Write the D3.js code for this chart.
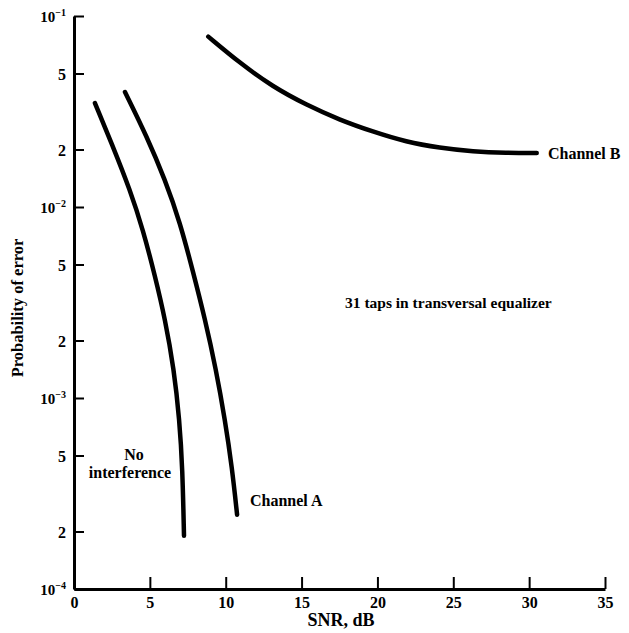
<!DOCTYPE html>
<html>
<head>
<meta charset="utf-8">
<script src="https://cdn.jsdelivr.net/npm/d3@7"></script>
<style>
  body { margin: 0; background: #fff; }
  svg text { font-family: "Liberation Serif", "DejaVu Serif", serif; font-weight: bold; fill: #000; }
</style>
</head>
<body>
<svg id="chart" width="629" height="633"></svg>
<script>
const width = 629;
const height = 633;

// values: [SNR dB, probability of error]
const noInterference = [
  [1.38, 3.5e-2], [2.57, 2.07e-2], [3.69, 1.23e-2], [4.55, 7.6e-3], [5.34, 4.35e-3],
  [6.0, 2.6e-3], [6.59, 1.41e-3], [6.95, 7.7e-4], [7.15, 4.3e-4], [7.25, 1.9e-4]
];
const channelA = [
  [3.36, 4.0e-2], [4.81, 2.33e-2], [6.0, 1.39e-2], [6.99, 8.3e-3], [7.84, 4.6e-3],
  [8.63, 2.6e-3], [9.36, 1.41e-3], [9.95, 7.7e-4], [10.42, 4.3e-4], [10.75, 2.45e-4]
];
const channelB = [
  [8.85, 7.8e-2], [10.9, 5.7e-2], [13.1, 4.26e-2], [15.3, 3.43e-2], [17.5, 2.86e-2],
  [19.7, 2.48e-2], [21.9, 2.19e-2], [24.1, 2.04e-2], [26.3, 1.95e-2], [28.5, 1.92e-2], [30.5, 1.92e-2]
];

const xTicks = [0, 5, 10, 15, 20, 25, 30, 35];
const yTicks = [1e-4, 2e-4, 5e-4, 1e-3, 2e-3, 5e-3, 1e-2, 2e-2, 5e-2, 1e-1];

const svg = d3.select("#chart");

const x = d3.scaleLinear().domain([0, 35]).range([74, 605]);
const y = d3.scaleLog().domain([1e-4, 1e-1]).range([589, 16]);

// x axis, ticks pointing up into the plot
const xAxis = svg.append("g")
  .attr("transform", `translate(0,${y(1e-4)})`)
  .call(d3.axisBottom(x).tickValues(xTicks).tickSize(-12).tickSizeOuter(0).tickPadding(5));
xAxis.select(".domain").attr("stroke", "#000").attr("stroke-width", 3);
xAxis.selectAll(".tick line").attr("stroke", "#000").attr("stroke-width", 2);
xAxis.selectAll(".tick text").attr("font-size", 16).attr("dy", "0.85em");

// y axis, ticks pointing right
const yAxis = svg.append("g")
  .attr("transform", `translate(${x(0)},0)`)
  .call(d3.axisLeft(y).tickValues(yTicks).tickSize(-10).tickSizeOuter(0).tickPadding(8).tickFormat(""));
yAxis.select(".domain").attr("stroke", "#000").attr("stroke-width", 3);
yAxis.selectAll(".tick line").attr("stroke", "#000").attr("stroke-width", 2);
yAxis.selectAll(".tick text").each(function (d) {
  const t = d3.select(this).attr("font-size", 16).attr("dy", "0.35em");
  const exp = Math.floor(Math.log10(d) + 1e-9);
  const mant = Math.round(d / Math.pow(10, exp));
  if (mant === 1) {
    t.attr("font-size", 15);
    t.append("tspan").text("10");
    t.append("tspan").attr("font-size", 10).attr("dy", "-0.6em").text("\u2212" + (-exp));
  } else {
    t.text(mant);
  }
});

const line = d3.line()
  .x((d) => x(d[0]))
  .y((d) => y(d[1]))
  .curve(d3.curveBasis);

for (const series of [noInterference, channelA, channelB]) {
  svg.append("path")
    .datum(series)
    .attr("fill", "none")
    .attr("stroke", "#000")
    .attr("stroke-width", 4.5)
    .attr("stroke-linecap", "round")
    .attr("d", line);
}

// annotations
svg.append("text").attr("x", 548).attr("y", 159).attr("font-size", 16).text("Channel B");
svg.append("text").attr("x", 250).attr("y", 506).attr("font-size", 16).text("Channel A");
svg.append("text").attr("x", 134).attr("y", 460).attr("text-anchor", "middle").attr("font-size", 16).text("No");
svg.append("text").attr("x", 130).attr("y", 478).attr("text-anchor", "middle").attr("font-size", 16).text("interference");
svg.append("text").attr("x", 345).attr("y", 308).attr("font-size", 15.5).text("31 taps in transversal equalizer");

svg.append("text")
  .attr("x", 341).attr("y", 626)
  .attr("text-anchor", "middle").attr("font-size", 18)
  .text("SNR, dB");
svg.append("text")
  .attr("transform", "translate(23,308) rotate(-90)")
  .attr("text-anchor", "middle").attr("font-size", 16.5)
  .text("Probability of error");
</script>
</body>
</html>
